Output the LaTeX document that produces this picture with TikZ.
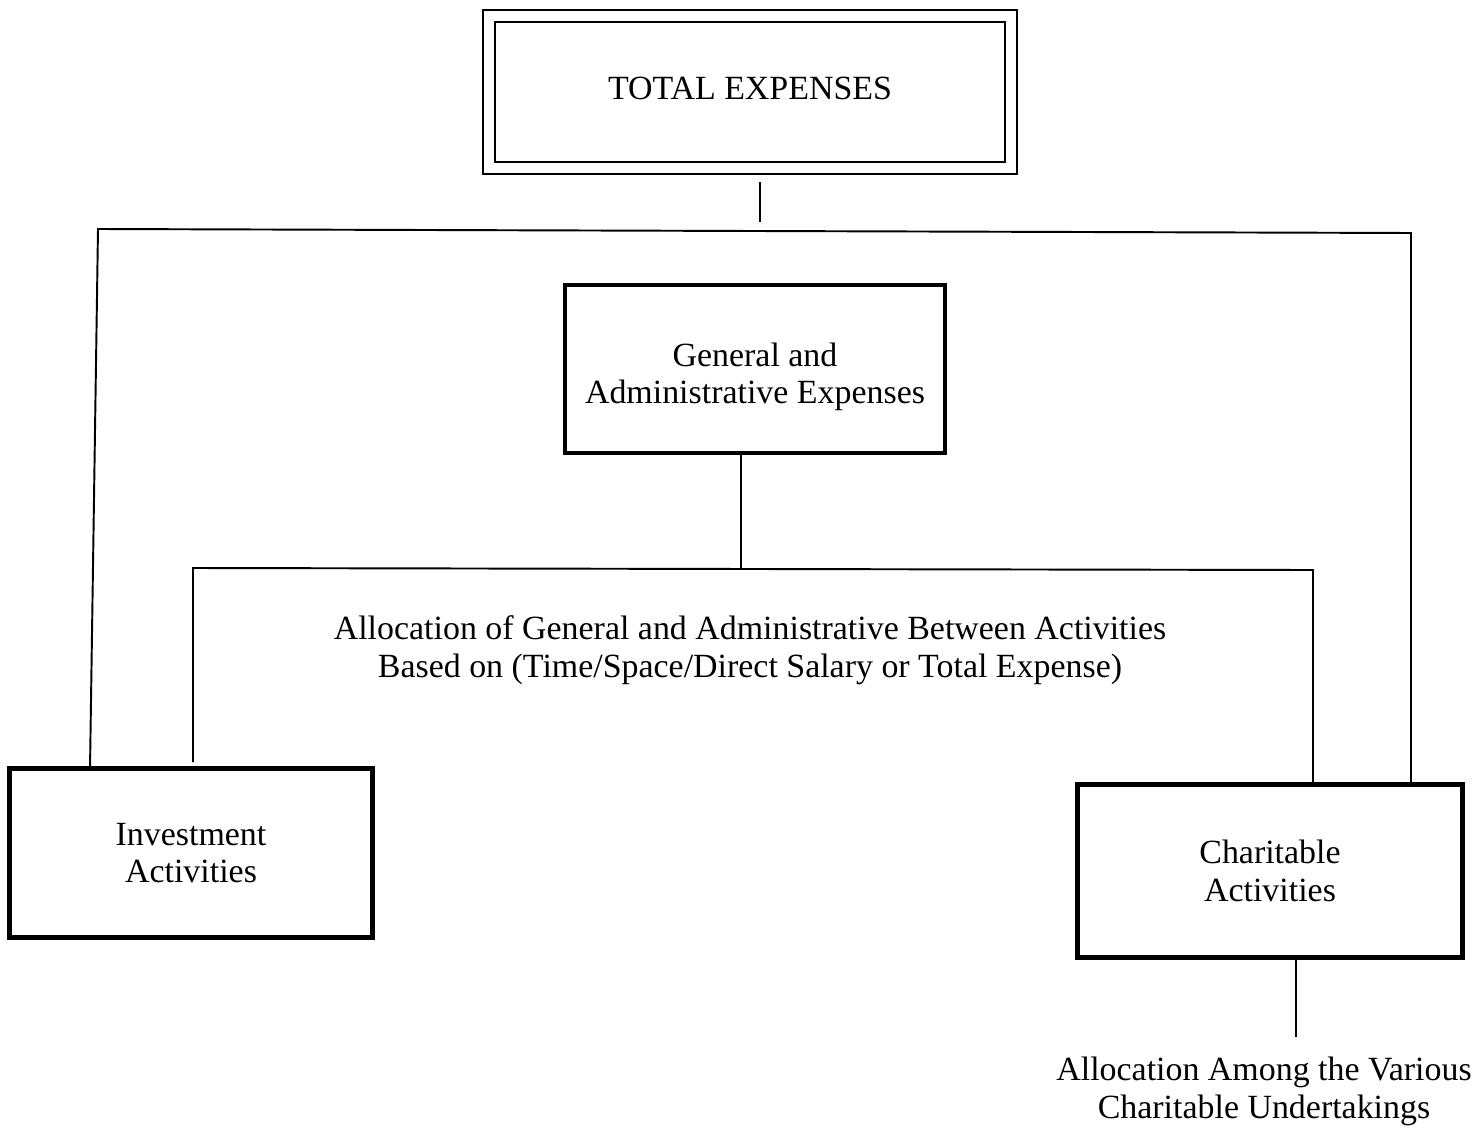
\documentclass[tikz,border=0pt]{standalone}
\usepackage{fontspec}
\setmainfont{Liberation Serif}
\begin{document}
\begin{tikzpicture}[x=0.02cm,y=-0.02cm,
  txt/.style={inner sep=0pt,align=center,font=\fontsize{19.3}{21.5}\selectfont},
  thickbox/.style={txt,draw,line width=2.4pt},
  dblbox/.style={txt,draw,line width=1.1pt,double,double distance=0.2cm},
  conn/.style={line width=1.1pt}]
\useasboundingbox (0,0) rectangle (1477,1132);
% nodes
\node[dblbox,minimum width=10.44cm,minimum height=3.04cm] (total) at (750,92) {\raisebox{4pt}{TOTAL EXPENSES}};
\node[thickbox,minimum width=7.6cm,minimum height=3.36cm,text depth=0pt] (ga) at (755,369) {\raisebox{5.4pt}{\parbox{7cm}{\centering General and\\Administrative Expenses}}};
\node[txt] (alloc) at (750,650) {Allocation of General and Administrative Between Activities\\Based on (Time/Space/Direct Salary or Total Expense)};
\node[thickbox,minimum width=7.26cm,minimum height=3.38cm] (inv) at (191,853) {Investment\\Activities};
\node[thickbox,minimum width=7.7cm,minimum height=3.46cm] (char) at (1270,871) {Charitable\\Activities};
\node[txt] (among) at (1264,1091) {Allocation Among the Various\\Charitable Undertakings};
% coordinates
\coordinate (t1) at (760,182);
\coordinate (t2) at (760,222);
\coordinate (hl) at (98,229);
\coordinate (hr) at (1411,233);
\coordinate (il) at (90,769);
\coordinate (cr) at (1411,785);
\coordinate (g1) at (741,568);
\coordinate (gl) at (193,568);
\coordinate (gr) at (1313,570);
\coordinate (ig) at (193,762);
\coordinate (cg) at (1313,785);
\coordinate (c1) at (1296,1037);
% connectors
\draw[conn] (t1) -- (t2);
\draw[conn] (il) -- (hl) -- (hr) -- (cr);
\draw[conn] (ga.south -| g1) -- (g1);
\draw[conn] (ig) -- (gl) -- (gr) -- (cg);
\draw[conn] (char.south -| c1) -- (c1);
\end{tikzpicture}
\end{document}
